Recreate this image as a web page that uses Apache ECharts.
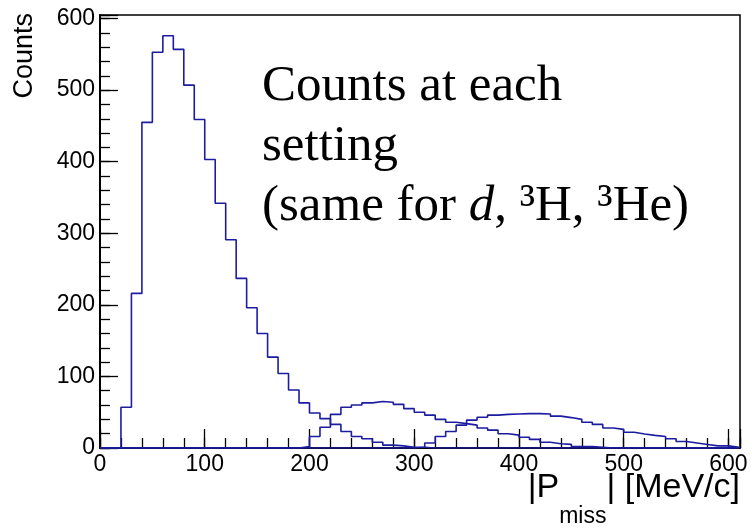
<!DOCTYPE html>
<html><head><meta charset="utf-8">
<script src="https://cdn.jsdelivr.net/npm/echarts@6/dist/echarts.min.js"></script>
<style>html,body{margin:0;padding:0;background:#fff}#main{width:752px;height:529px}</style>
</head><body><div id="main"></div>
<script>
// Bin edges of |P_miss| histogram [MeV/c]
const binEdges = [0,10,20,30,40,50,60,70,80,90,100,110,120,130,140,150,160,170,180,190,
  200,210,220,230,240,250,260,270,280,290,300,310,320,330,340,350,360,370,380,390,
  400,410,420,430,440,450,460,470,480,490,500,510,520,530,540,550,560,570,580,590,600,610];
// Counts per bin (one value per bin, bin i spans binEdges[i]..binEdges[i+1])
const setting1 = [0,0,57,216,455,553,576,557,507,459,
  403,342,291,237,196,160,127,104,81,63,
  49,41,33,23,16,13,8,4,3,1,
  1,0,0,0,0,0,0,0,0,0,
  0,0,0,0,0,0,0,0,0,0,
  0,0,0,0,0,0,0,0,0,0,
  0];
const setting2 = [0,0,0,0,0,0,0,0,0,0,
  0,0,0,0,0,0,0,0,0,2,
  16,29,47,57,60,63,65,64,61,55,
  50,46,40,36,34,32,28,25,20,18,
  15,12,8,6,5,2,2,1,0,0,
  0,0,0,0,0,0,0,0,0,0,
  0];
const setting3 = [0,0,0,0,0,0,0,0,0,0,
  0,0,0,0,0,0,0,0,0,0,
  0,0,0,0,0,0,0,0,0,0,
  1,7,16,23,32,39,43,46,47,47.5,
  48,48,47.5,44.5,42.5,40,36,33,28,26,
  22,19.5,17.6,16,13,9,7,5,3,3,
  1];
const xTickLabels = [0,100,200,300,400,500,600];
const yTickLabels = [0,100,200,300,400,500,600];

const lineColor = '#1c1ca0';
function toSteps(vals){
  return binEdges.map((e,i)=>[e, i < vals.length ? vals[i] : 0]);
}
function histSeries(name, vals){
  return {name, type:'line', step:'end', data: toSteps(vals), symbol:'none',
    xAxisIndex:0, yAxisIndex:0, lineStyle:{color:lineColor, width:1.6}, itemStyle:{color:lineColor},
    animation:false, silent:true};
}
const lab = {fontFamily:'Liberation Sans', fontSize:23, color:'#000'};
const fmt = v => (xTickLabels.indexOf(v) >= 0 ? String(v) : '');
const fmtY = v => (yTickLabels.indexOf(v) >= 0 ? String(v) : '');
const chart = echarts.init(document.getElementById('main'), null, {renderer:'canvas'});
chart.setOption({
  animation:false,
  backgroundColor:'#fff',
  grid:{left:100, right:12, top:15, bottom:81, show:true, borderColor:'#000', borderWidth:1.5, backgroundColor:'transparent'},
  xAxis:[
    {type:'value', min:0, max:611, interval:100, position:'bottom',
     axisLine:{show:true, onZero:false, lineStyle:{color:'#000', width:2}},
     axisTick:{show:true, inside:true, length:19, lineStyle:{color:'#000', width:1.3}},
     axisLabel:Object.assign({margin:5, formatter:fmt}, lab),
     splitLine:{show:false}},
    {type:'value', min:0, max:611, interval:20, position:'bottom',
     axisLine:{show:false, onZero:false},
     axisTick:{show:true, inside:true, length:10, lineStyle:{color:'#000', width:1.3}},
     axisLabel:{show:false}, splitLine:{show:false}}
  ],
  yAxis:[
    {type:'value', min:0, max:605, interval:100, position:'left',
     axisLine:{show:true, onZero:false, lineStyle:{color:'#000', width:2}},
     axisTick:{show:true, inside:true, length:18, lineStyle:{color:'#000', width:1.3}},
     axisLabel:Object.assign({margin:5, formatter:fmtY}, lab),
     splitLine:{show:false}},
    {type:'value', min:0, max:605, interval:20, position:'left',
     axisLine:{show:false, onZero:false},
     axisTick:{show:true, inside:true, length:10, lineStyle:{color:'#000', width:1.3}},
     axisLabel:{show:false}, splitLine:{show:false}}
  ],
  series:[histSeries('setting 1', setting1), histSeries('setting 2', setting2), histSeries('setting 3', setting3)],
  graphic:[
    {type:'text', x:25, y:13, rotation:Math.PI/2,
     style:{text:'Counts', fontFamily:'Liberation Sans', fontSize:27, fill:'#000',
       align:'right', verticalAlign:'middle', textAlign:'right', textVerticalAlign:'middle'}},
    {type:'text', x:740, y:471,
     style:{text:'{m||P}{s|miss}{m|| [MeV/c]}', align:'right', verticalAlign:'top', textAlign:'right', textVerticalAlign:'top',
       rich:{
         m:{fontFamily:'Liberation Sans', fontSize:34, lineHeight:36, verticalAlign:'top', fill:'#000', color:'#000'},
         s:{fontFamily:'Liberation Sans', fontSize:23, lineHeight:57, verticalAlign:'bottom', fill:'#000', color:'#000'}
       }}},
    {type:'text', x:262, y:57,
     style:{text:'{n|Counts at each}\n{n|setting}\n{n|(same for }{i|d}{n|, ³H, ³He)}', align:'left', verticalAlign:'top', textAlign:'left', textVerticalAlign:'top',
       rich:{
         n:{fontFamily:'Liberation Serif', fontSize:51, lineHeight:60, fill:'#000', color:'#000'},
         i:{fontFamily:'Liberation Serif', fontSize:51, fontStyle:'italic', lineHeight:60, fill:'#000', color:'#000'}
       }}}
  ]
});
</script></body></html>
